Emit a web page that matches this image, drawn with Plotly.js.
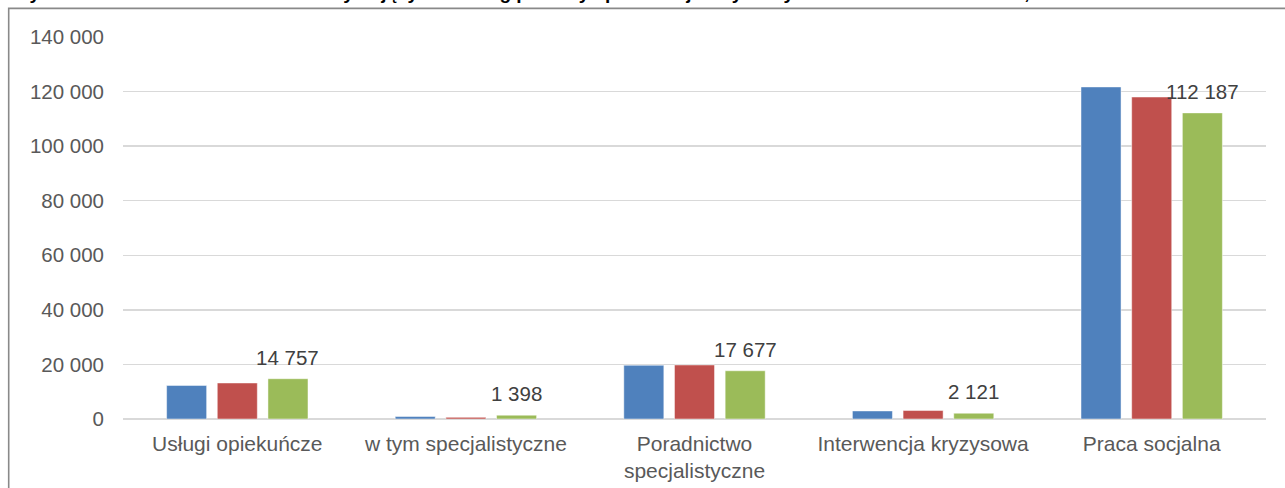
<!DOCTYPE html>
<html>
<head>
<meta charset="utf-8">
<script src="https://cdn.plot.ly/plotly-3.0.1.min.js"></script>
<style>
html,body{margin:0;padding:0;background:#fff;}
#chart{width:1285px;height:488px;}
</style>
</head>
<body>
<div id="chart"></div>
<script>
// Data
const categories = ["Usługi opiekuńcze", "w tym specjalistyczne", "Poradnictwo<br>specjalistyczne", "Interwencja kryzysowa", "Praca socjalna"];
const seriesNames = ["2016", "2017", "2018"];
const values2016 = [12300, 900, 19700, 2950, 121700];
const values2017 = [13200, 600, 19800, 3100, 118000];
const values2018 = [14757, 1398, 17677, 2121, 112187];
const yTicks = [0, 20000, 40000, 60000, 80000, 100000, 120000, 140000];
const titleText = "Wykres 10. Liczba osób i rodzin korzystających z usług pomocy społecznej w wybranych formach w latach 2016, 2017 i 2018";

const colors = ["#4F81BD", "#C0504D", "#9BBB59"];
const font = "Liberation Sans, Arial, sans-serif";

const allSeries = [values2016, values2017, values2018];
const traces = allSeries.map((vals, i) => ({
  type: "bar",
  name: seriesNames[i],
  x: categories,
  y: vals,
  marker: {color: colors[i], line: {color: "rgba(255,255,255,0.6)", width: 0.8}},
  showlegend: false,
  hoverinfo: "none"
}));

function fmt(v){
  return String(v).replace(/\B(?=(\d{3})+(?!\d))/g, " ");
}

const annotations = categories.map((c, i) => ({
  x: c, y: values2018[i], xref: "x", yref: "y",
  text: fmt(values2018[i]),
  showarrow: false,
  xanchor: "center", yanchor: "bottom",
  xshift: 50.6, yshift: 8,
  font: {family: font, size: 20.5, color: "#404040"}
}));

annotations.push({
  xref: "paper", yref: "paper",
  x: (10 - 123) / 1143, y: 1 + (37.3 - 5.5) / 382,
  xanchor: "left", yanchor: "bottom",
  text: "<b>" + titleText + "</b>",
  showarrow: false,
  font: {family: font, size: 19, color: "#000"}
});

const layout = {
  width: 1285, height: 488,
  margin: {l: 123, r: 19, t: 37, b: 69},
  paper_bgcolor: "#fff", plot_bgcolor: "#fff",
  barmode: "group",
  bargap: 0.335,
  bargroupgap: 0.21,
  separators: ", ",
  font: {family: font, size: 20.5, color: "#595959"},
  xaxis: {
    type: "category",
    showgrid: false,
    showline: false,
    ticks: "",
    ticklabelstandoff: 10,
    tickfont: {family: font, size: 21, color: "#595959"},
    fixedrange: true
  },
  yaxis: {
    range: [0, 140000],
    tickvals: yTicks,
    ticktext: yTicks.map(fmt),
    showgrid: true,
    gridcolor: "#d9d9d9",
    gridwidth: 1.3,
    zeroline: true,
    zerolinecolor: "#d9d9d9",
    zerolinewidth: 1.3,
    showline: false,
    ticks: "",
    ticklabelstandoff: 18,
    tickfont: {family: font, size: 20.5, color: "#595959"},
    fixedrange: true
  },
  annotations: annotations,
  shapes: [{
    type: "rect", xref: "paper", yref: "paper",
    x0: (8.7 - 123) / 1143, x1: 1.2,
    y0: -0.5, y1: 1 + (37.3 - 8.7) / 382,
    line: {color: "#898989", width: 1.6},
    fillcolor: "rgba(0,0,0,0)",
    layer: "below"
  }]
};

Plotly.newPlot("chart", traces, layout, {displayModeBar: false, staticPlot: true});
</script>
</body>
</html>
